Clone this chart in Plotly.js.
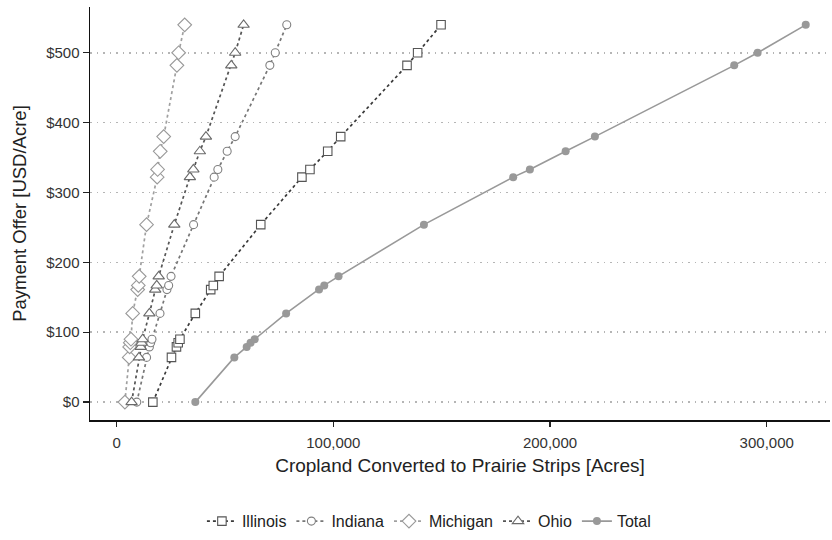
<!DOCTYPE html>
<html>
<head>
<meta charset="utf-8">
<script src="https://cdn.plot.ly/plotly-3.0.1.min.js"></script>
<style>html,body{margin:0;padding:0;background:#fff;}#chart{width:832px;height:540px;}</style>
</head>
<body>
<div id="chart"></div>
<script>
const payment = [0, 64, 79, 85, 90, 127, 161, 167, 180, 254, 322, 333, 359, 380, 482, 500, 540];
const illinois = [16700, 25300, 27600, 28400, 29200, 36300, 43400, 44600, 47300, 66500, 85500, 89200, 97400, 103400, 134000, 138900, 149700];
const indiana  = [9300, 13800, 15100, 15700, 16300, 20000, 23200, 24000, 25100, 35500, 45000, 46700, 51000, 54700, 70700, 73200, 78500];
const michigan = [3800, 5800, 6000, 6300, 6600, 7400, 9700, 10000, 10400, 13800, 18700, 18900, 20100, 21700, 27800, 28600, 31400];
const ohio     = [6900, 10300, 11100, 11500, 12000, 15100, 17800, 18500, 19400, 26600, 33800, 35400, 38400, 41200, 52900, 54700, 58600];
const total    = [36300, 54300, 60000, 61800, 63700, 78200, 93400, 95800, 102400, 141800, 183000, 190700, 207200, 220700, 285000, 295800, 318000];
const seriesNames = ["Illinois", "Indiana", "Michigan", "Ohio", "Total"];

function stateTrace(name, xs, lineColor, markColor, symbol, size) {
  return {
    type: "scatter", mode: "lines+markers", name: name,
    x: xs, y: payment,
    line: {color: lineColor, width: 1.7, dash: "3px,3px"},
    marker: {symbol: symbol, size: size, color: "#ffffff", line: {color: markColor, width: 1.1}}
  };
}
const traces = [
  stateTrace(seriesNames[0], illinois, "#3a3a3a", "#555555", "square", 8.5),
  stateTrace(seriesNames[1], indiana, "#777777", "#808080", "circle", 8),
  stateTrace(seriesNames[2], michigan, "#a0a0a0", "#999999", "diamond", 10.5),
  stateTrace(seriesNames[3], ohio, "#555555", "#6a6a6a", "triangle-up", 10),
  {
    type: "scatter", mode: "lines+markers", name: seriesNames[4],
    x: total, y: payment,
    line: {color: "#999999", width: 1.6},
    marker: {symbol: "circle", size: 8, color: "#999999"}
  }
];
const layout = {
  width: 832, height: 540,
  margin: {l: 90, r: 2, t: 7, b: 118},
  paper_bgcolor: "#fff", plot_bgcolor: "#fff",
  font: {family: "Liberation Sans, Arial, sans-serif", color: "#333"},
  showlegend: true,
  legend: {orientation: "h", x: 0.458, xanchor: "center", y: -0.245, yanchor: "middle",
           font: {size: 16, color: "#222"}, itemwidth: 30, tracegroupgap: 0},
  xaxis: {
    range: [-12300, 329200], tickvals: [0, 100000, 200000, 300000],
    ticktext: ["0", "100,000", "200,000", "300,000"],
    showgrid: false, zeroline: false,
    showline: true, linecolor: "#111", linewidth: 1.5,
    ticks: "outside", ticklen: 5, tickwidth: 1.3, tickcolor: "#222",
    ticklabelstandoff: 3,
    tickfont: {size: 15, color: "#333"},
    title: {text: "Cropland Converted to Prairie Strips [Acres]", font: {size: 19, color: "#222"}, standoff: 9}
  },
  yaxis: {
    range: [-25.6, 565.5], tickvals: [0, 100, 200, 300, 400, 500],
    ticktext: ["$0", "$100", "$200", "$300", "$400", "$500"],
    showgrid: true, gridcolor: "#b5b5b5", gridwidth: 1.5, griddash: "1.5px,5px",
    zeroline: false,
    showline: true, linecolor: "#111", linewidth: 1.5,
    ticks: "outside", ticklen: 6, tickwidth: 1.3, tickcolor: "#222",
    tickfont: {size: 15, color: "#333"},
    title: {text: "Payment Offer [USD/Acre]", font: {size: 18.5, color: "#222"}, standoff: 14}
  }
};
Plotly.newPlot("chart", traces, layout, {displayModeBar: false, staticPlot: true});
</script>
</body>
</html>
